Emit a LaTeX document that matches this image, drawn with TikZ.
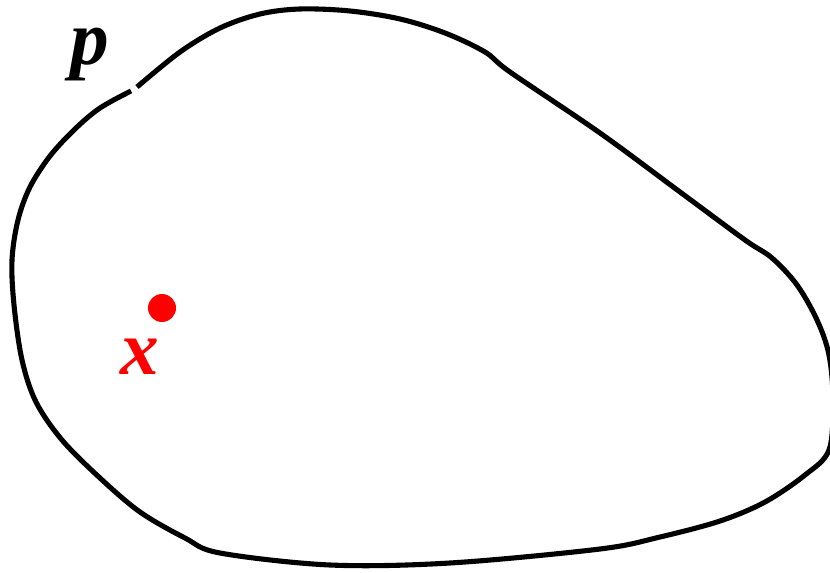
\documentclass[tikz,border=0pt]{standalone}
\usepackage{fontspec}
\setmainfont{Liberation Serif}
\begin{document}
\begin{tikzpicture}[x=0.02cm,y=-0.02cm]
\useasboundingbox (0,0) rectangle (830,573);
\tikzset{lab/.style={font=\fontsize{44}{44}\selectfont\bfseries\itshape}}
% the closed path, with a small gap near p
\draw[line width=2.9pt, line join=round] plot[smooth, tension=0.55] coordinates {
(137,87) (180,52) (220,28) (260,14) (300,9) (350,11) (400,19) (445,33) (485,52)
(510,72) (600,133) (680,192) (745,240) (772,258) (797,285) (817,320) (829,355)
(833,400) (829,450) (805,475) (765,502) (720,521) (660,537) (600,549) (450,563)
(330,565) (220,553) (185,538) (140,512) (100,478) (62,440) (36,402) (22,360)
(14,305) (12,260) (18,220) (30,187) (50,156) (75,129) (100,108) (131,91)};
\node[lab] (p) at (90,55) {p};
\fill[red] (162,308) circle (14) coordinate (pt);
\node[lab, text=red] (x) at (140,357) {x};
\end{tikzpicture}
\end{document}
